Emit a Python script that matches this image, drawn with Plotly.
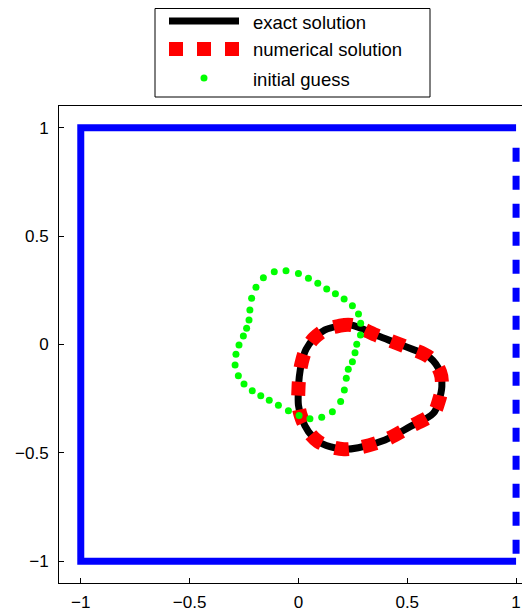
import plotly.graph_objects as go

# ---------------- data ----------------
tick_vals = [-1, -0.5, 0, 0.5, 1]

# outer boundary: solid part (top, left, bottom) and dashed part (right side)
boundary_solid_x = [1, -1, -1, 1]
boundary_solid_y = [1, 1, -1, -1]
boundary_dashed_x = [1, 1]
boundary_dashed_y = [1, -1]

# exact solution (closed curve)
exact_x = [0.122, 0.183, 0.242, 0.367, 0.482, 0.602, 0.651, 0.659, 0.645, 0.620,
           0.513, 0.398, 0.275, 0.210, 0.145, 0.091, 0.046, 0.015, 0.000, 0.000,
           0.004, 0.015, 0.035, 0.072, 0.122]
exact_y = [0.067, 0.085, 0.090, 0.039, -0.006, -0.059, -0.127, -0.194, -0.260, -0.317,
           -0.379, -0.440, -0.476, -0.483, -0.471, -0.448, -0.402, -0.340, -0.279, -0.210,
           -0.148, -0.084, -0.022, 0.029, 0.067]

# numerical solution (coincides with the exact one at plot resolution)
numerical_x = list(exact_x)
numerical_y = list(exact_y)

# initial guess (sample points)
guess_x = [-0.057, 0.000, 0.046, 0.089, 0.130, 0.170, 0.210, 0.248, 0.276, 0.286,
           0.285, 0.268, 0.260, 0.248, 0.229, 0.220, 0.211, 0.194, 0.156, 0.107,
           0.053, 0.003, -0.046, -0.092, -0.134, -0.173, -0.212, -0.250, -0.276, -0.291,
           -0.287, -0.273, -0.253, -0.238, -0.227, -0.223, -0.215, -0.195, -0.161, -0.111]
guess_y = [0.340, 0.328, 0.306, 0.282, 0.256, 0.234, 0.210, 0.179, 0.141, 0.098,
           0.044, 0.001, -0.038, -0.079, -0.114, -0.156, -0.210, -0.263, -0.310, -0.336,
           -0.343, -0.328, -0.306, -0.280, -0.257, -0.236, -0.213, -0.182, -0.144, -0.094,
           -0.045, -0.002, 0.039, 0.075, 0.113, 0.159, 0.213, 0.264, 0.308, 0.335]

legend_labels = ["exact solution", "numerical solution", "initial guess"]

# ---------------- layout constants ----------------
# the page body has an 8px margin, so the figure is drawn 8px in from the corner
OFF = 8
W, H = 530 - OFF, 613 - OFF
ML, MR, MT, MB = 59 - OFF, 0, 106 - OFF, 30
PW, PH = W - ML - MR, H - MT - MB
FONT = "Liberation Sans, Arial, Helvetica, sans-serif"


def pxx(X):
    # page pixel -> paper coordinate
    return (X - OFF - ML) / PW


def pxy(Y):
    return (H - MB - (Y - OFF)) / PH


fig = go.Figure()

fig.add_trace(go.Scatter(x=boundary_solid_x, y=boundary_solid_y, mode="lines",
                         line=dict(color="#0000ff", width=7), showlegend=False,
                         hoverinfo="skip"))
blue_dash = "0px,20px," + ",".join(["14px,14px"] * 16)
fig.add_trace(go.Scatter(x=boundary_dashed_x, y=boundary_dashed_y, mode="lines",
                         line=dict(color="#0000ff", width=7, dash=blue_dash),
                         showlegend=False, hoverinfo="skip"))

fig.add_trace(go.Scatter(x=exact_x, y=exact_y, mode="lines", name=legend_labels[0],
                         line=dict(color="black", width=7, shape="spline"),
                         showlegend=False))
fig.add_trace(go.Scatter(x=numerical_x, y=numerical_y, mode="lines", name=legend_labels[1],
                         line=dict(color="#ff0000", width=14, shape="spline",
                                   dash="14px,14px"),
                         showlegend=False))
fig.add_trace(go.Scatter(x=guess_x, y=guess_y, mode="markers", name=legend_labels[2],
                         marker=dict(color="#00ff00", size=7, line=dict(width=0)),
                         showlegend=False))

# ---------------- manual legend ----------------
shapes = []
annotations = []
shapes.append(dict(type="rect", xref="paper", yref="paper",
                   x0=pxx(155), x1=pxx(430), y0=pxy(97), y1=pxy(8.5),
                   line=dict(color="black", width=1), fillcolor="white", layer="above"))
shapes.append(dict(type="line", xref="paper", yref="paper",
                   x0=pxx(169), x1=pxx(239), y0=pxy(21), y1=pxy(21),
                   line=dict(color="black", width=7), layer="above"))
shapes.append(dict(type="line", xref="paper", yref="paper",
                   x0=pxx(169), x1=pxx(239), y0=pxy(49), y1=pxy(49),
                   line=dict(color="#ff0000", width=14, dash="14px,14px"), layer="above"))
shapes.append(dict(type="circle", xref="paper", yref="paper",
                   x0=pxx(200.5), x1=pxx(207.5), y0=pxy(81.5), y1=pxy(74.5),
                   line=dict(width=0), fillcolor="#00ff00", layer="above"))
for lab, yy in zip(legend_labels, [22, 50, 79]):
    annotations.append(dict(text=lab, xref="paper", yref="paper", x=pxx(251), y=pxy(yy),
                            xanchor="left", yanchor="middle", showarrow=False,
                            font=dict(family=FONT, size=18.5, color="black")))

fig.update_layout(
    width=W, height=H,
    margin=dict(l=ML, r=MR, t=MT, b=MB, pad=0),
    paper_bgcolor="white", plot_bgcolor="white",
    font=dict(family=FONT, size=17, color="black"),
    shapes=shapes, annotations=annotations,
    showlegend=False,
)
fig.update_xaxes(range=[-1.1, 1.064], tickvals=tick_vals,
                 ticks="inside", ticklen=5, tickcolor="black", showline=True,
                 linecolor="black", linewidth=1, mirror=True, showgrid=False,
                 zeroline=False, ticklabelstandoff=4)
fig.update_yaxes(range=[-1.1, 1.1], tickvals=tick_vals,
                 ticks="inside", ticklen=5, tickcolor="black", showline=True,
                 linecolor="black", linewidth=1, mirror=False, showgrid=False,
                 zeroline=False, ticklabelstandoff=6)

fig.write_html("out.html")
